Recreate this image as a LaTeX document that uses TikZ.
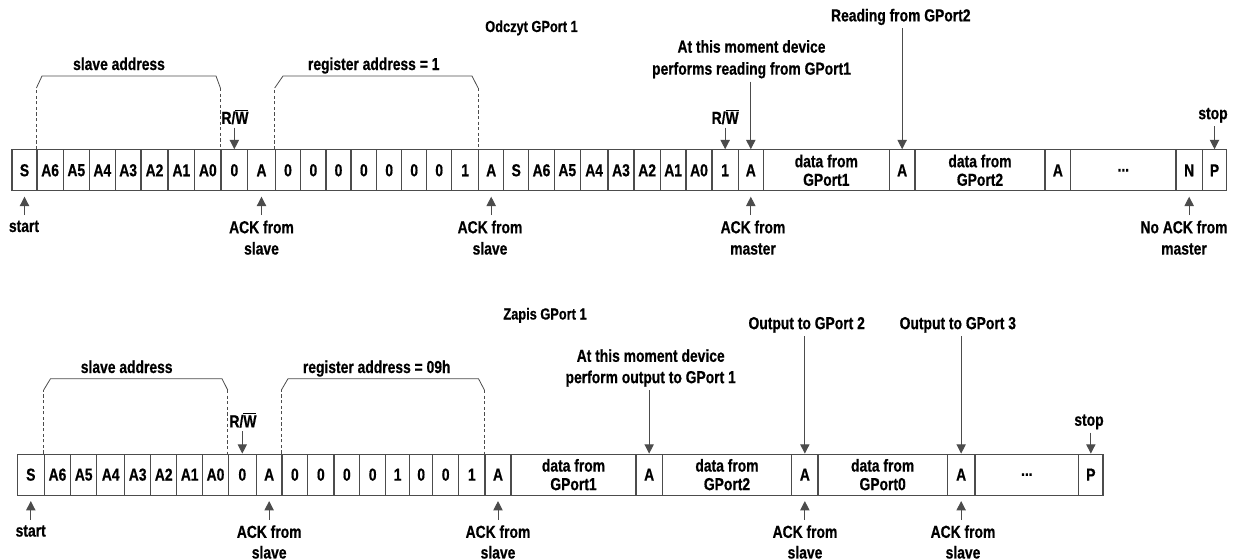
\documentclass[tikz,border=0pt]{standalone}
\usepackage{fontspec}
\setmainfont{Liberation Sans}[FakeStretch=0.8, BoldFeatures={FakeBold=0.6}]
\usetikzlibrary{arrows.meta}
\definecolor{ln}{gray}{0.3}
\newcommand\mkcell[5]{\node[cell,minimum width={(#3-#2)*0.75pt}] (#1) at ({(#2+#3)/2},#5) {#4};}
\newcommand\rwbar{R/$\overline{\hbox{W}}$}
\begin{document}
\begin{tikzpicture}[x=0.75pt,y=-0.75pt,
  every node/.style={font=\bfseries\fontsize{13}{16}\selectfont, inner sep=0pt, text=black},
  cell/.style={draw=ln, line width=0.9pt, minimum height=30.7pt, align=center, font=\bfseries\fontsize{13}{13.9}\selectfont},
  head/.style={font=\bfseries\fontsize{12}{14}\selectfont},
  ackb/.style={anchor=north, align=center, font=\bfseries\fontsize{13}{15.5}\selectfont},
  arr/.style={draw=ln, line width=0.75pt, -{Triangle[width=7pt,length=7pt]}},
  dn/.style={arr, shorten <=2.25pt},
  up/.style={arr, shorten <=4pt, shorten >=4pt},
  brk/.style={draw=ln, line width=0.6pt},
  brkd/.style={brk, dash pattern=on 2.4pt off 1.8pt}]
\useasboundingbox (0,0) rectangle (1235,560);

% ---------- top row ----------
\mkcell{t0}{12}{37}{S}{170.3}
\mkcell{t1}{37}{63.3}{A6}{170.3}
\mkcell{t2}{63.3}{89.3}{A5}{170.3}
\mkcell{t3}{89.3}{115.3}{A4}{170.3}
\mkcell{t4}{115.3}{141}{A3}{170.3}
\mkcell{t5}{141}{168}{A2}{170.3}
\mkcell{t6}{168}{194.7}{A1}{170.3}
\mkcell{t7}{194.7}{221}{A0}{170.3}
\mkcell{t8}{221}{247.7}{0}{170.3}
\mkcell{t9}{247.7}{275.3}{A}{170.3}
\mkcell{t10}{275.3}{300.7}{0}{170.3}
\mkcell{t11}{300.7}{326}{0}{170.3}
\mkcell{t12}{326}{351}{0}{170.3}
\mkcell{t13}{351}{376.7}{0}{170.3}
\mkcell{t14}{376.7}{401.7}{0}{170.3}
\mkcell{t15}{401.7}{426.7}{0}{170.3}
\mkcell{t16}{426.7}{451.7}{0}{170.3}
\mkcell{t17}{451.7}{478.7}{1}{170.3}
\mkcell{t18}{478.7}{503.7}{A}{170.3}
\mkcell{t19}{503.7}{528.7}{S}{170.3}
\mkcell{t20}{528.7}{554.3}{A6}{170.3}
\mkcell{t21}{554.3}{580.3}{A5}{170.3}
\mkcell{t22}{580.3}{608}{A4}{170.3}
\mkcell{t23}{608}{634}{A3}{170.3}
\mkcell{t24}{634}{660.3}{A2}{170.3}
\mkcell{t25}{660.3}{686}{A1}{170.3}
\mkcell{t26}{686}{712}{A0}{170.3}
\mkcell{t27}{712}{738.3}{1}{170.3}
\mkcell{t28}{738.3}{763.3}{A}{170.3}
\mkcell{t29}{763.3}{889.3}{data from\\GPort1}{170.3}
\mkcell{t30}{889.3}{915}{A}{170.3}
\mkcell{t31}{915}{1045}{data from\\GPort2}{170.3}
\mkcell{t32}{1045}{1070.7}{A}{170.3}
\mkcell{t33}{1070.7}{1176}{...}{170.3}
\mkcell{t34}{1176}{1202.3}{N}{170.3}
\mkcell{t35}{1202.3}{1226.7}{P}{170.3}

\node[head, anchor=base] (h1) at (531.5,32) {Odczyt GPort 1};
\node[anchor=base] (sa1) at (119,70) {slave address};
\node[anchor=base] (ra1) at (373.7,70) {register address = 1};
\node[anchor=south] (rw1) at (235,124.5) {\rwbar};
\node[anchor=south] (rw2) at (725.2,124.5) {\rwbar};
\node[anchor=south, align=center, font=\bfseries\fontsize{13}{16.5}\selectfont] (mom1) at (751.5,78.6) {At this moment device\\performs reading from GPort1};
\node[anchor=south] (rd2) at (900.8,25.3) {Reading from GPort2};
\node[anchor=south] (stop1) at (1213,123) {stop};
\node[anchor=north] (start1) at (24,220.4) {start};
\node[anchor=north, align=center] (ack1) at (261.5,220.4) {ACK from\\slave};
\node[anchor=north, align=center] (ack2) at (490,220.4) {ACK from\\slave};
\node[anchor=north, align=center] (ackm) at (753,220.4) {ACK from\\master};
\node[anchor=north, align=center] (nack) at (1184,220.4) {No ACK from\\master};

\draw[dn] (rw1.south -| t8.north) -- (t8.north);
\draw[dn] (rw2.south -| t27.north) -- (t27.north);
\draw[dn] (mom1.south -| t28.north) -- (t28.north);
\draw[dn] (rd2.south -| t30.north) -- (t30.north);
\draw[dn] (stop1.south -| t35.north) -- (t35.north);
\draw[up] (start1.north -| t0.south) -- (t0.south);
\draw[up] (ack1.north -| t9.south) -- (t9.south);
\draw[up] (ack2.north -| t18.south) -- (t18.south);
\draw[up] (ackm.north -| t28.south) -- (t28.south);
\draw[up] (nack.north -| t34.south) -- (t34.south);

\draw[brkd] (t1.north west) -- (t1.north west |- 0,88);
\draw[brk] (t1.north west |- 0,88) -- (42,76) -- (216,76) -- (t8.north west |- 0,88);
\draw[brkd] (t8.north west |- 0,88) -- (t8.north west);
\draw[brkd] (t10.north west) -- (t10.north west |- 0,88);
\draw[brk] (t10.north west |- 0,88) -- (283,76) -- (472,76) -- (t18.north west |- 0,88);
\draw[brkd] (t18.north west |- 0,88) -- (t18.north west);

% ---------- bottom row ----------
\mkcell{b0}{17.3}{44.3}{S}{474.65}
\mkcell{b1}{44.3}{70.7}{A6}{474.65}
\mkcell{b2}{70.7}{96.7}{A5}{474.65}
\mkcell{b3}{96.7}{124.7}{A4}{474.65}
\mkcell{b4}{124.7}{150.7}{A3}{474.65}
\mkcell{b5}{150.7}{176.7}{A2}{474.65}
\mkcell{b6}{176.7}{202.7}{A1}{474.65}
\mkcell{b7}{202.7}{228.3}{A0}{474.65}
\mkcell{b8}{228.3}{256.3}{0}{474.65}
\mkcell{b9}{256.3}{282}{A}{474.65}
\mkcell{b10}{282}{307.7}{0}{474.65}
\mkcell{b11}{307.7}{334}{0}{474.65}
\mkcell{b12}{334}{359.7}{0}{474.65}
\mkcell{b13}{359.7}{385.7}{0}{474.65}
\mkcell{b14}{385.7}{409.7}{1}{474.65}
\mkcell{b15}{409.7}{432.7}{0}{474.65}
\mkcell{b16}{432.7}{458.7}{0}{474.65}
\mkcell{b17}{458.7}{485}{1}{474.65}
\mkcell{b18}{485}{511}{A}{474.65}
\mkcell{b19}{511}{636}{data from\\GPort1}{474.65}
\mkcell{b20}{636}{662.3}{A}{474.65}
\mkcell{b21}{662.3}{791.7}{data from\\GPort2}{474.65}
\mkcell{b22}{791.7}{818}{A}{474.65}
\mkcell{b23}{818}{947.3}{data from\\GPort0}{474.65}
\mkcell{b24}{947.3}{975}{A}{474.65}
\mkcell{b25}{975}{1078.7}{...}{474.65}
\mkcell{b26}{1078.7}{1103}{P}{474.65}

\node[head, anchor=base] (h2) at (545,319.5) {Zapis GPort 1};
\node[anchor=base] (sa2) at (126.7,373) {slave address};
\node[anchor=base] (ra2) at (376.7,373) {register address = 09h};
\node[anchor=south] (rw3) at (243,428) {\rwbar};
\node[anchor=south, align=center] (mom2) at (650.7,387) {At this moment device\\perform output to GPort 1};
\node[anchor=south] (out2) at (806.7,333) {Output to GPort 2};
\node[anchor=south] (out3) at (957.8,333) {Output to GPort 3};
\node[anchor=south] (stop2) at (1089,429.6) {stop};
\node[anchor=north] (start2) at (30.7,525) {start};
\node[ackb] (ack3) at (269.2,525) {ACK from\\slave};
\node[ackb] (ack4) at (498,525) {ACK from\\slave};
\node[ackb] (ack5) at (805,525) {ACK from\\slave};
\node[ackb] (ack6) at (963,525) {ACK from\\slave};

\draw[dn] (rw3.south -| b8.north) -- (b8.north);
\draw[dn] (mom2.south -| b20.north) -- (b20.north);
\draw[dn] (out2.south -| b22.north) -- (b22.north);
\draw[dn] (out3.south -| b24.north) -- (b24.north);
\draw[dn] (stop2.south -| b26.north) -- (b26.north);
\draw[up] (start2.north -| b0.south) -- (b0.south);
\draw[up] (ack3.north -| b9.south) -- (b9.south);
\draw[up] (ack4.north -| b18.south) -- (b18.south);
\draw[up] (ack5.north -| b22.south) -- (b22.south);
\draw[up] (ack6.north -| b24.south) -- (b24.south);

\draw[brkd] (b1.north west) -- (b1.north west |- 0,390);
\draw[brk] (b1.north west |- 0,390) -- (50.5,378.7) -- (222,378.7) -- (b8.north west |- 0,390);
\draw[brkd] (b8.north west |- 0,390) -- (b8.north west);
\draw[brkd] (b10.north west) -- (b10.north west |- 0,390);
\draw[brk] (b10.north west |- 0,390) -- (288,378.7) -- (478.5,378.7) -- (b18.north west |- 0,390);
\draw[brkd] (b18.north west |- 0,390) -- (b18.north west);
\end{tikzpicture}
\end{document}
